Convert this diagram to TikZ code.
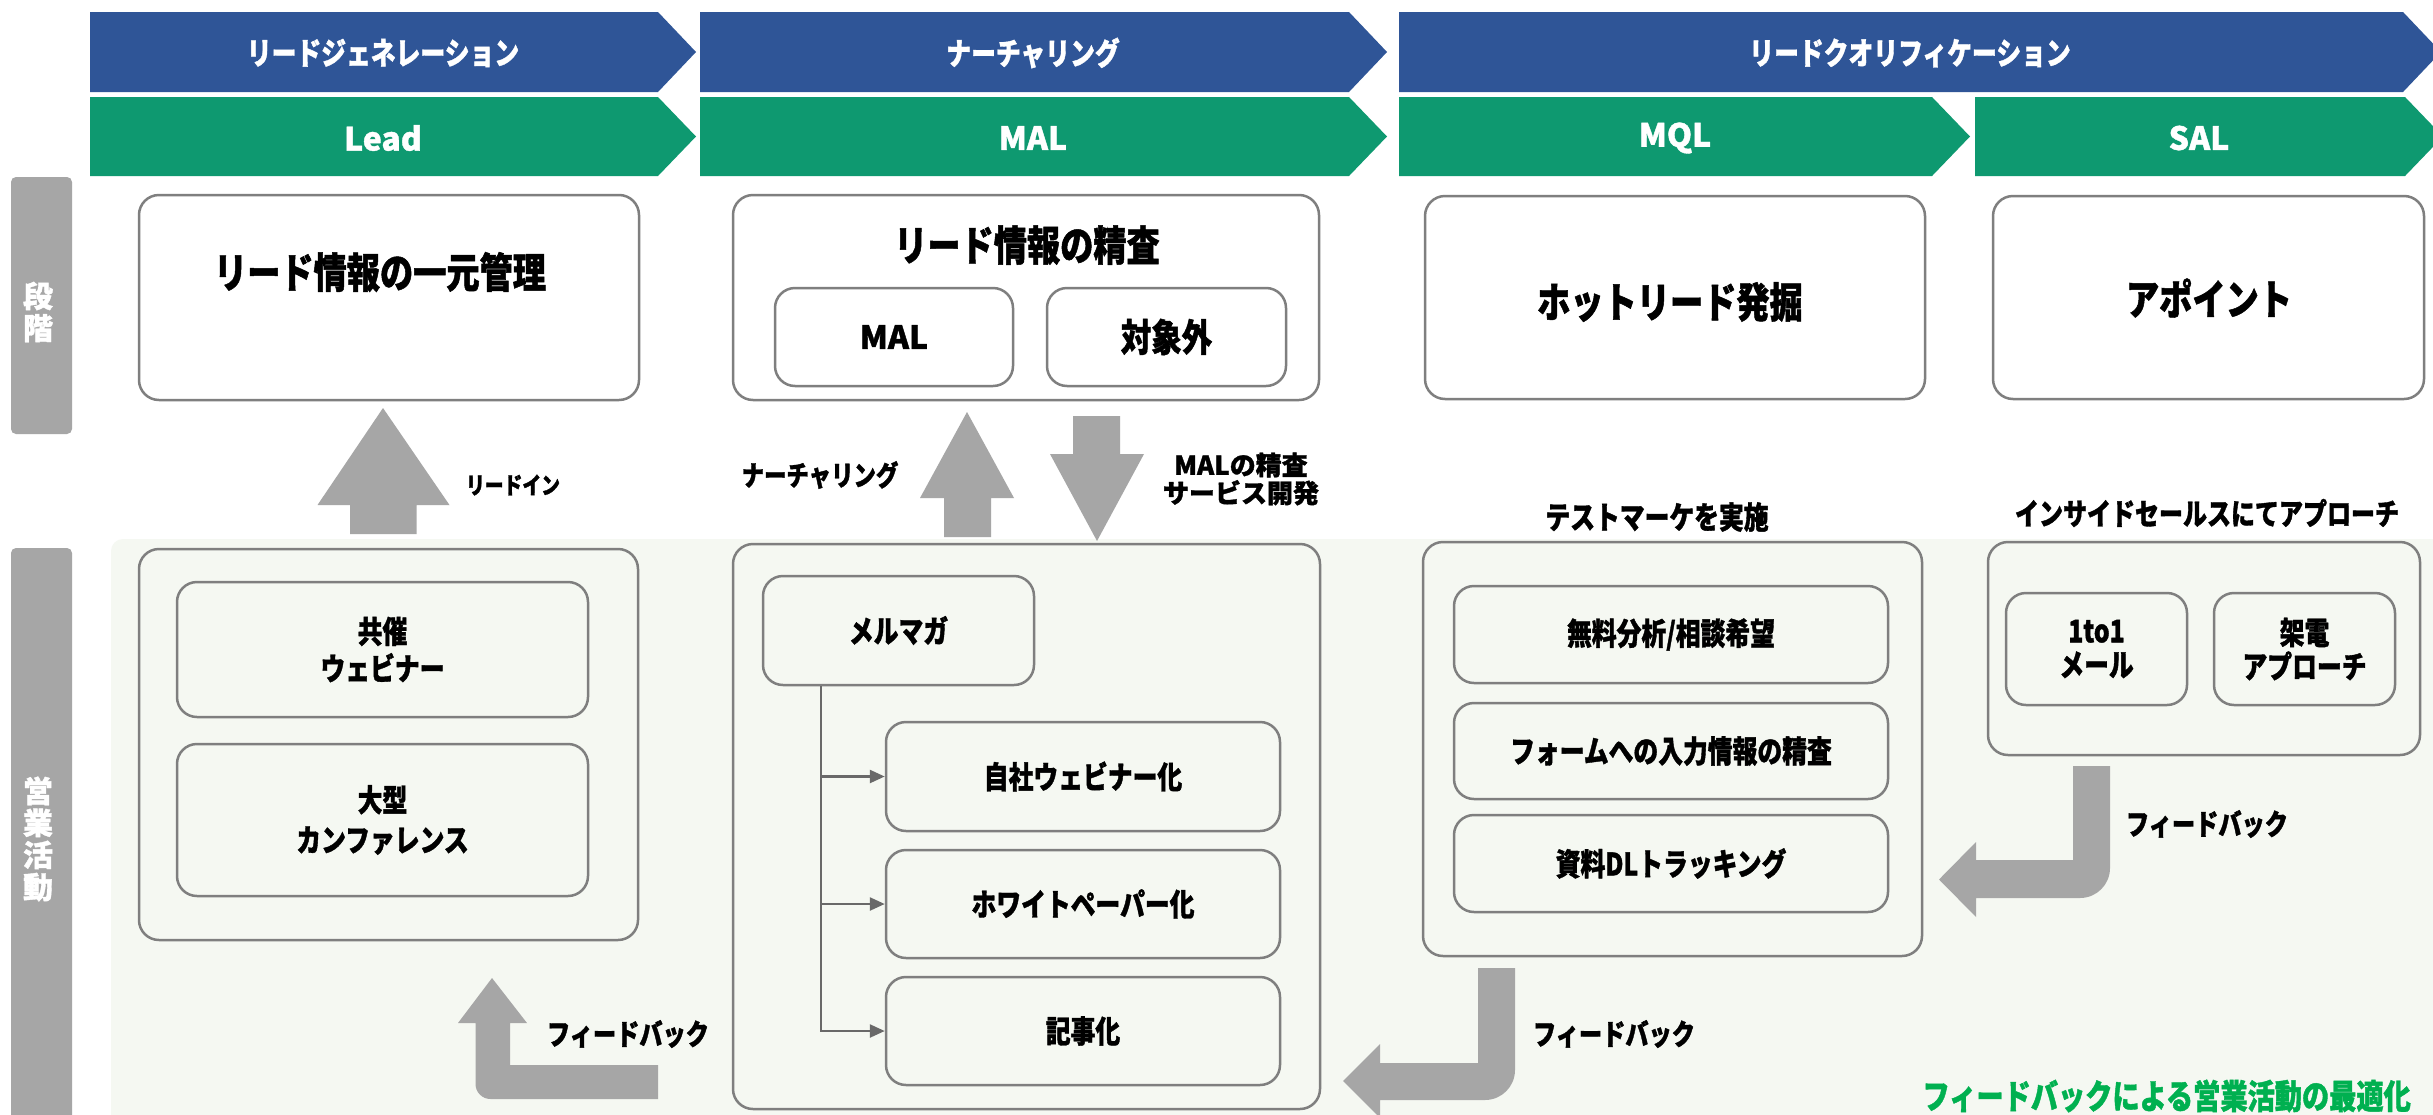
\documentclass[tikz,border=0pt]{standalone}
\usepackage{fontspec}
\setmainfont{Noto Sans CJK JP}[FakeStretch=0.8, BoldFeatures={FakeBold=1.2}]
\newfontfamily\jpw{Noto Sans CJK JP}[BoldFeatures={FakeBold=1.2}]
\usetikzlibrary{arrows.meta}
\definecolor{bannerblue}{RGB}{47,85,151}
\definecolor{bannergreen}{RGB}{14,153,112}
\definecolor{arrowgray}{RGB}{166,166,166}
\definecolor{boxgray}{RGB}{127,127,127}
\definecolor{panelbg}{RGB}{245,248,242}
\definecolor{linegray}{RGB}{105,105,105}
\definecolor{optgreen}{RGB}{0,176,80}
\begin{document}
\begin{tikzpicture}[x=1pt,y=-1pt,
  box/.style={draw=boxgray, line width=2.5pt, rounded corners=20pt, inner sep=0pt},
  upbox/.style={box, fill=white},
  sidebar/.style={fill=arrowgray, rounded corners=5pt, inner sep=0pt, draw=none},
  vtext/.style={text=white, font=\jpw\bfseries\fontsize{30}{32}\selectfont, align=center, inner sep=0pt},
  bnr/.style={text=white, font=\bfseries\fontsize{31}{34}\selectfont, inner sep=0pt},
  bnrlat/.style={text=white, font=\jpw\bfseries\fontsize{32}{36}\selectfont, inner sep=0pt},
  ttl/.style={font=\bfseries\fontsize{41.5}{46}\selectfont, inner sep=0pt},
  subttl/.style={font=\bfseries\fontsize{38}{42}\selectfont},
  subttllat/.style={font=\jpw\bfseries\fontsize{32}{36}\selectfont},
  txt/.style={font=\bfseries\fontsize{31}{37}\selectfont, align=center},
  txtwide/.style={font=\bfseries\fontsize{31}{40}\selectfont, align=center},
  txttight/.style={font=\bfseries\fontsize{31}{34}\selectfont, align=center},
  lblsmall/.style={font=\bfseries\fontsize{23.5}{26}\selectfont, inner sep=0pt},
  lblmid/.style={font=\bfseries\fontsize{28}{30}\selectfont, inner sep=0pt},
  lblwide/.style={font=\jpw\bfseries\fontsize{26}{28}\selectfont, align=center, inner sep=0pt},
  lblhead/.style={font=\bfseries\fontsize{31}{34}\selectfont, inner sep=0pt},
  lblhead2/.style={font=\bfseries\fontsize{30}{34}\selectfont, inner sep=0pt},
  fb/.style={font=\bfseries\fontsize{29}{32}\selectfont, inner sep=0pt},
  blockarrow/.style={fill=arrowgray, draw=none},
  conn/.style={draw=linegray, line width=2.5pt, -{Triangle[length=15pt,width=13pt]}},
]
\useasboundingbox (0,0) rectangle (2433,1114);
\fill[white] (0,0) rectangle (2433,1114);

% ---------- banners ----------
\fill[bannerblue] (90,12) -- (658,12) -- (696,52) -- (658,92) -- (90,92) -- cycle;
\fill[bannerblue] (700,12) -- (1349,12) -- (1387,52) -- (1349,92) -- (700,92) -- cycle;
\fill[bannerblue] (1399,12) -- (2403,12) -- (2441,52) -- (2403,92) -- (1399,92) -- cycle;
\fill[bannergreen] (90,97) -- (658,97) -- (696,136.5) -- (658,176) -- (90,176) -- cycle;
\fill[bannergreen] (700,97) -- (1349,97) -- (1387,136.5) -- (1349,176) -- (700,176) -- cycle;
\fill[bannergreen] (1399,97) -- (1932,97) -- (1970,136.5) -- (1932,176) -- (1399,176) -- cycle;
\fill[bannergreen] (1975,97) -- (2405,97) -- (2443,136.5) -- (2405,176) -- (1975,176) -- cycle;

\node[bnr] (t1) at (383,53) {リードジェネレーション};
\node[bnr] (t2) at (1033,53) {ナーチャリング};
\node[bnr] (t3) at (1910,53) {リードクオリフィケーション};
\node[bnrlat] (g1) at (383,138) {Lead};
\node[bnrlat] (g2) at (1033,138) {MAL};
\node[bnrlat] (g3) at (1675,138) {MQL};
\node[bnrlat] (g4) at (2199,138) {SAL};

% ---------- side bars ----------
\node[sidebar, minimum width=61pt, minimum height=257pt] (side1) at (41.5,305.5) {};
\node[vtext] (side1t) at (38,312) {段\\階};
\node[sidebar, minimum width=61pt, minimum height=577pt] (side2) at (41.5,836.5) {};
\node[vtext] (side2t) at (38,839) {営\\業\\活\\動};

% ---------- lower panel ----------
\fill[panelbg, rounded corners=12pt] (111,539) rectangle (2460,1140);

% ---------- upper boxes ----------
\node[upbox, minimum width=500pt, minimum height=205pt] (B1) at (389,297.5) {};
\node[ttl] (B1t) at (380,272) {リード情報の一元管理};
\node[upbox, minimum width=586pt, minimum height=205pt] (B2) at (1026,297.5) {};
\node[ttl] (B2t) at (1027,245) {リード情報の精査};
\node[upbox, minimum width=238pt, minimum height=98pt, subttllat] (B2a) at (894,337) {MAL};
\node[upbox, minimum width=239pt, minimum height=98pt, subttl] (B2b) at (1166.5,337) {対象外};
\node[upbox, minimum width=500pt, minimum height=203pt] (B3) at (1675,297.5) {};
\node[ttl] (B3t) at (1670,302) {ホットリード発掘};
\node[upbox, minimum width=431pt, minimum height=203pt] (B4) at (2208.5,297.5) {};
\node[ttl] (B4t) at (2209,298) {アポイント};

% ---------- middle block arrows ----------
\fill[blockarrow] (383,408) -- (449.5,505) -- (416.5,505) -- (416.5,534) -- (350,534) -- (350,505) -- (317.5,505) -- cycle;
\node[lblsmall] (lin) at (513,485) {リードイン};
\fill[blockarrow] (967,412) -- (1014,498) -- (991,498) -- (991,537) -- (944,537) -- (944,498) -- (920,498) -- cycle;
\node[lblmid] (lnur) at (820,475) {ナーチャリング};
\fill[blockarrow] (1073,416) -- (1120,416) -- (1120,454) -- (1144,454) -- (1097,541) -- (1050,454) -- (1073,454) -- cycle;
\node[lblwide] (lmal) at (1241,479) {MALの精査\\サービス開発};
\node[lblhead] (lmql) at (1657,517) {テストマーケを実施};
\node[lblhead2] (lsal) at (2207,513) {インサイドセールスにてアプローチ};

% ---------- lower boxes ----------
\node[box, minimum width=499pt, minimum height=391pt] (L1) at (388.5,744.5) {};
\node[box, minimum width=411pt, minimum height=135pt, txt] (L1a) at (382.5,649.5) {共催\\ウェビナー};
\node[box, minimum width=411pt, minimum height=152pt, txtwide] (L1b) at (382.5,820) {大型\\カンファレンス};

\node[box, minimum width=587pt, minimum height=565pt] (L2) at (1026.5,826.5) {};
\node[box, minimum width=271pt, minimum height=109pt, txt] (L2a) at (898.5,630.5) {メルマガ};
\node[box, minimum width=394pt, minimum height=109pt, txt] (L2b) at (1083,776.5) {自社ウェビナー化};
\node[box, minimum width=394pt, minimum height=108pt, txt] (L2c) at (1083,904) {ホワイトペーパー化};
\node[box, minimum width=394pt, minimum height=108pt, txt] (L2d) at (1083,1031) {記事化};
\draw[conn] ([xshift=59pt]L2a.south west) |- (L2b.west);
\draw[conn] ([xshift=59pt]L2a.south west) |- (L2c.west);
\draw[conn] ([xshift=59pt]L2a.south west) |- (L2d.west);

\node[box, minimum width=499pt, minimum height=414pt] (L3) at (1672.5,749) {};
\node[box, minimum width=434pt, minimum height=97pt, txt] (L3a) at (1671,634.5) {無料分析/相談希望};
\node[box, minimum width=434pt, minimum height=96pt, txt] (L3b) at (1671,751) {フォームへの入力情報の精査};
\node[box, minimum width=434pt, minimum height=97pt, txt] (L3c) at (1671,863.5) {資料DLトラッキング};

\node[box, minimum width=432pt, minimum height=213pt] (L4) at (2204,648.5) {};
\node[box, minimum width=181pt, minimum height=112pt, txttight] (L4a) at (2096.5,649) {1to1\\メール};
\node[box, minimum width=181pt, minimum height=112pt, txttight] (L4b) at (2304.5,649) {架電\\アプローチ};

% ---------- feedback arrows ----------
\fill[blockarrow] (492,978) -- (527,1023) -- (510,1023) -- (510,1065) -- (658,1065) -- (658,1099) -- (490.5,1099) .. controls (482.2,1099) and (475.5,1092.3) .. (475.5,1084) -- (475.5,1023) -- (458,1023) -- cycle;
\node[fb] (fb1) at (628,1034) {フィードバック};

\fill[blockarrow] (1478,968) -- (1515,968) -- (1515,1070) .. controls (1515,1086.6) and (1501.6,1100) .. (1485,1100) -- (1380,1100) -- (1380,1118) -- (1343,1081) -- (1380,1044) -- (1380,1063) -- (1478,1063) -- cycle;
\node[fb] (fb2) at (1614,1034) {フィードバック};

\fill[blockarrow] (2073,766) -- (2110,766) -- (2110,868) .. controls (2110,884.6) and (2096.6,898) .. (2080,898) -- (1976,898) -- (1976,917) -- (1939,879.5) -- (1976,842) -- (1976,860) -- (2073,860) -- cycle;
\node[fb] (fb3) at (2207,824) {フィードバック};

\node[font=\bfseries\fontsize{34}{38}\selectfont, text=optgreen, anchor=east, inner sep=0pt] (opt) at (2411,1096) {フィードバックによる営業活動の最適化};
\end{tikzpicture}
\end{document}
